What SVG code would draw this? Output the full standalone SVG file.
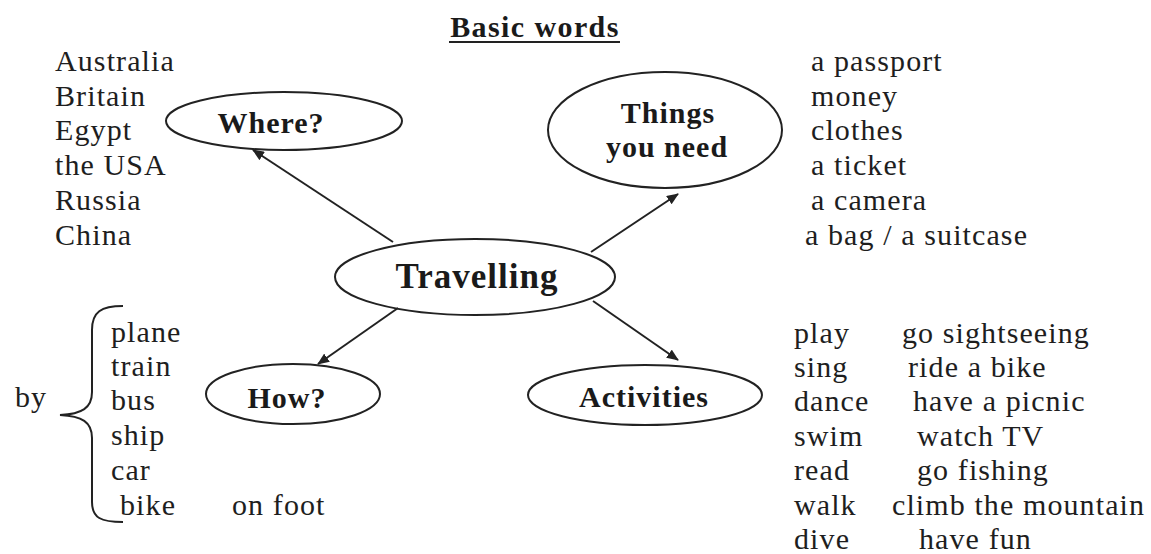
<svg xmlns="http://www.w3.org/2000/svg" width="1151" height="554" viewBox="0 0 1151 554">
<style>
.t{font-family:"Liberation Serif","Times New Roman",serif;font-size:30px;fill:#1e1e1e;letter-spacing:1.1px}
.b{font-family:"Liberation Serif","Times New Roman",serif;font-size:30px;font-weight:bold;fill:#1a1a1a;letter-spacing:1px;text-anchor:middle}
.e{fill:none;stroke:#222;stroke-width:2}
.c{fill:none;stroke:#222;stroke-width:2}
</style>
<defs>
<marker id="ah" viewBox="0 0 12 10" refX="11" refY="5" markerWidth="12" markerHeight="10" markerUnits="userSpaceOnUse" orient="auto">
<path d="M0,0 L12,5 L0,10 Z" fill="#222"/>
</marker>
</defs>
<rect width="1151" height="554" fill="#fff"/>
<g id="title">
<text class="b" x="535" y="37" style="letter-spacing:1.4px">Basic words</text>
<line x1="449" y1="42" x2="620" y2="42" stroke="#222" stroke-width="2"/>
</g>
<g id="connectors">
<line class="c" x1="393" y1="242" x2="253" y2="150" marker-end="url(#ah)"/>
<line class="c" x1="591" y1="252" x2="678" y2="194" marker-end="url(#ah)"/>
<line class="c" x1="398" y1="308" x2="318" y2="364" marker-end="url(#ah)"/>
<line class="c" x1="593" y1="301" x2="678" y2="360" marker-end="url(#ah)"/>
</g>
<g id="travelling">
<ellipse class="e" cx="475" cy="277" rx="140" ry="38"/>
<text class="b" x="477" y="288" style="font-size:35px">Travelling</text>
</g>
<g id="where">
<ellipse class="e" cx="284" cy="121" rx="118" ry="29"/>
<text class="b" x="271" y="133">Where?</text>
</g>
<g id="things">
<ellipse class="e" cx="665" cy="130" rx="117" ry="58"/>
<text class="b" x="668" y="123">Things</text>
<text class="b" x="667" y="157">you need</text>
</g>
<g id="how">
<ellipse class="e" cx="293" cy="394" rx="87" ry="30"/>
<text class="b" x="287" y="408">How?</text>
</g>
<g id="activities">
<ellipse class="e" cx="645" cy="395" rx="117" ry="30"/>
<text class="b" x="644" y="407">Activities</text>
</g>
<g id="places">
<text class="t" x="55" y="71">Australia</text>
<text class="t" x="55" y="106">Britain</text>
<text class="t" x="55" y="140">Egypt</text>
<text class="t" x="55" y="175">the USA</text>
<text class="t" x="55" y="210">Russia</text>
<text class="t" x="55" y="245">China</text>
</g>
<g id="things-list">
<text class="t" x="811" y="71">a passport</text>
<text class="t" x="811" y="106">money</text>
<text class="t" x="811" y="140">clothes</text>
<text class="t" x="811" y="175">a ticket</text>
<text class="t" x="811" y="210">a camera</text>
<text class="t" x="805" y="245">a bag / a suitcase</text>
</g>
<g id="transport">
<text class="t" x="15" y="407">by</text>
<path class="c" d="M123,306 C101,306 92,312 92,330 L92,392 C92,408 82,414 60,415 C82,416 92,422 92,438 L92,502 C92,518 101,522 123,522"/>
<text class="t" x="111" y="342">plane</text>
<text class="t" x="111" y="376">train</text>
<text class="t" x="111" y="410">bus</text>
<text class="t" x="111" y="445">ship</text>
<text class="t" x="111" y="480">car</text>
<text class="t" x="120" y="515">bike</text>
<text class="t" x="232" y="515">on foot</text>
</g>
<g id="activities-list">
<text class="t" x="794" y="343">play</text>
<text class="t" x="794" y="377">sing</text>
<text class="t" x="794" y="411">dance</text>
<text class="t" x="794" y="446">swim</text>
<text class="t" x="794" y="480">read</text>
<text class="t" x="794" y="515">walk</text>
<text class="t" x="794" y="549">dive</text>
<text class="t" x="902" y="343">go sightseeing</text>
<text class="t" x="908" y="377">ride a bike</text>
<text class="t" x="913" y="411">have a picnic</text>
<text class="t" x="917" y="446">watch TV</text>
<text class="t" x="917" y="480">go fishing</text>
<text class="t" x="892" y="515">climb the mountain</text>
<text class="t" x="919" y="549">have fun</text>
</g>
</svg>
